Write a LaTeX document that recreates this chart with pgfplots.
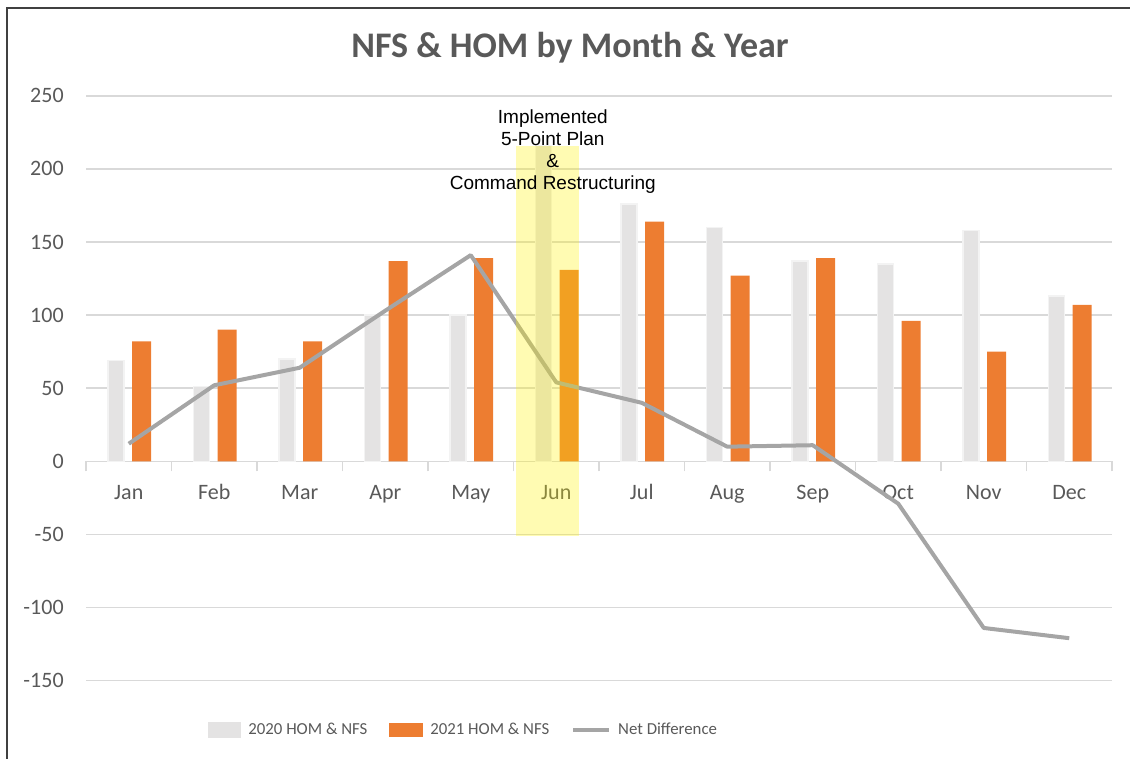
\documentclass[border=0pt]{standalone}
\usepackage{pgfplots}
\pgfplotsset{compat=1.18}
\usepackage{fontspec}
\setmainfont{Carlito}
\newfontfamily\arial{Liberation Sans}
\definecolor{gridc}{HTML}{D9D9D9}
\definecolor{textc}{HTML}{595959}
\definecolor{cA}{HTML}{E4E3E3}
\definecolor{cAedge}{HTML}{F3F3F3}
\definecolor{cB}{HTML}{ED7D31}
\definecolor{cnet}{HTML}{A5A5A5}
\definecolor{frame}{HTML}{404040}
\pgfplotsset{
  legboxA/.style={legend image code/.code={\fill[cA] (0pt,-3.5pt) rectangle (16pt,3.5pt);}},
  legboxB/.style={legend image code/.code={\fill[cB] (0pt,-3.5pt) rectangle (17pt,3.5pt);}},
  legline/.style={legend image code/.code={\draw[##1] (0pt,0pt) -- (18pt,0pt);}},
}
\begin{document}
\begin{tikzpicture}
\path (0,0) rectangle (565pt,379.5pt);
\draw[frame, line width=1pt] (3.5pt,0) -- (3.5pt,375.5pt) -- (565pt,375.5pt);
\node[font=\bfseries\fontsize{18}{21}\selectfont, text=textc] at (285pt,355.5pt) {NFS \& HOM by Month \& Year};
\begin{axis}[
  set layers,
  at={(43pt,39.2pt)}, anchor=south west,
  scale only axis, width=513pt, height=292.4pt,
  xmin=-0.5, xmax=11.5, ymin=-150, ymax=250,
  enlargelimits=false,
  axis x line=middle, axis y line=left,
  axis line style={-},
  x axis line style={draw=gridc, line width=0.75pt},
  y axis line style={draw=none},
  ymajorgrids, grid style={gridc, line width=0.75pt},
  ytick={-150,-100,...,250},
  ytick style={draw=none},
  yticklabel style={font=\fontsize{11}{13}\selectfont, text=textc, xshift=-5.5pt},
  /pgf/number format/assume math mode=true,
  xtick={0,...,11},
  xticklabels={Jan,Feb,Mar,Apr,May,Jun,Jul,Aug,Sep,Oct,Nov,Dec},
  xtick style={draw=none},
  xticklabel style={font=\fontsize{11}{13}\selectfont, text=textc, anchor=base, yshift=-17pt},
  extra x ticks={-0.5,0.5,...,11.5},
  extra x tick labels={},
  extra x tick style={xtick style={draw=gridc, line width=0.75pt}, major tick length=5pt, tick align=outside, grid=none},
  legend style={draw=none, fill=none, at={(0.369,-0.0845)}, anchor=center,
    font=\fontsize{8.4}{10}\selectfont, text=textc, legend columns=3,
    /tikz/every odd column/.append style={column sep=1.5pt},
    /tikz/every even column/.append style={column sep=9pt}},
]
\addplot[ybar, bar width=8pt, bar shift=-6.4pt, fill=cA, draw=cAedge, line width=0.6pt,
  area legend, legboxA]
  coordinates {(0,69) (1,51) (2,70) (3,100) (4,100) (5,216) (6,176) (7,160) (8,137) (9,135) (10,158) (11,113)};
\addlegendentry{2020 HOM \& NFS}
\addplot[ybar, bar width=9.5pt, bar shift=6.4pt, fill=cB, draw=none,
  area legend, legboxB]
  coordinates {(0,82) (1,90) (2,82) (3,137) (4,139) (5,131) (6,164) (7,127) (8,139) (9,96) (10,75) (11,107)};
\addlegendentry{2021 HOM \& NFS}
\addplot[sharp plot, cnet, line width=2pt, line join=round, mark=none, legline]
  coordinates {(0,12) (1,52) (2,64) (3,103) (4,141) (5,54) (6,40) (7,10) (8,11) (9,-29) (10,-114) (11,-121)};
\addlegendentry{Net Difference}
\fill[yellow, opacity=0.3] (axis cs:4.53,-51) rectangle (axis cs:5.27,216);
\node[anchor=north, inner sep=0pt, align=center, font=\arial\fontsize{9.5}{11}\selectfont]
  at (axis cs:4.96,241) {Implemented\\5-Point Plan\\\&\\Command Restructuring};
\end{axis}
\pgfresetboundingbox
\path (0,0) rectangle (565pt,379.5pt);
\end{tikzpicture}
\end{document}
